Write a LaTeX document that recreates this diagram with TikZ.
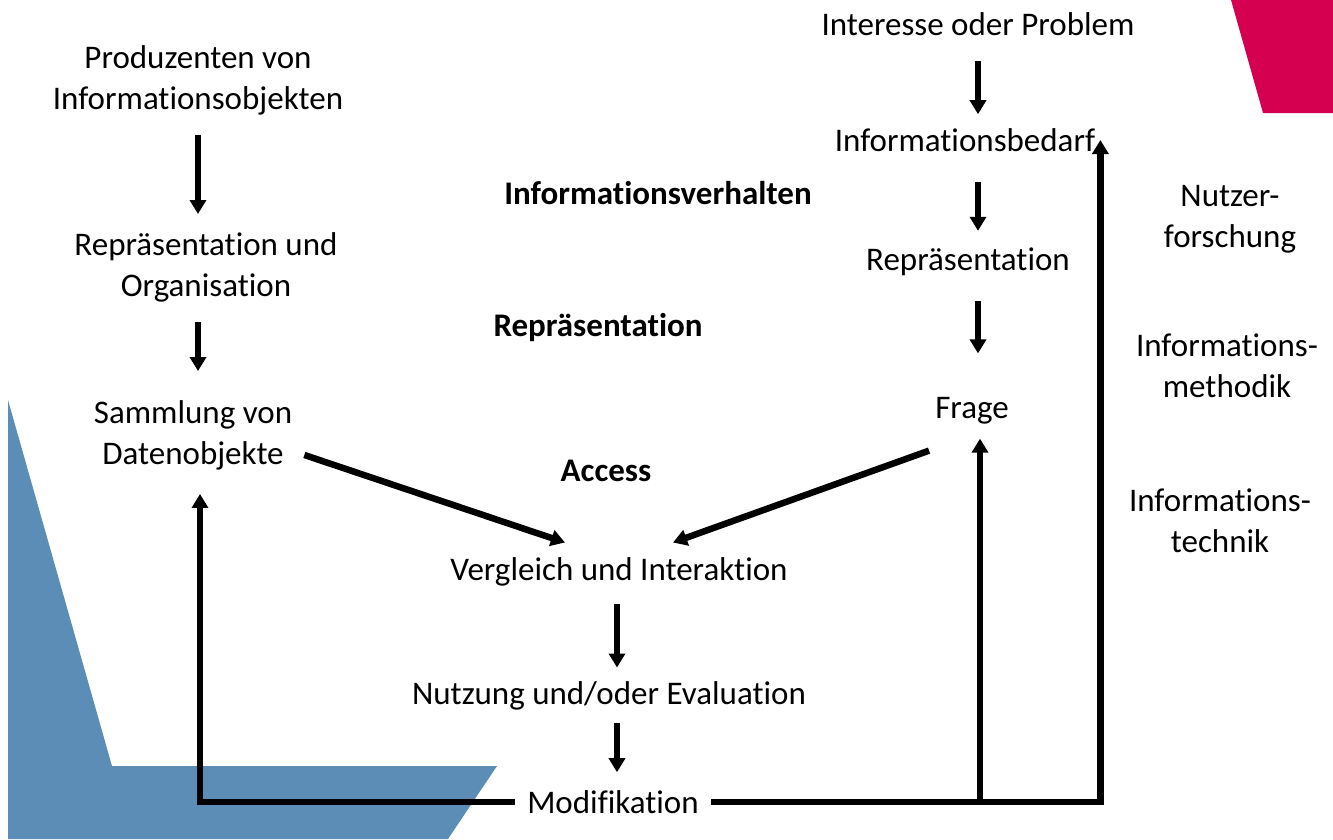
\documentclass[tikz,border=0pt]{standalone}
\usepackage{fontspec}
\setmainfont[Ligatures={CommonOff,ContextualOff,RequiredOff,RareOff},Contextuals=AlternateOff]{Carlito}
\usepackage{xcolor}
\usetikzlibrary{arrows.meta}
\definecolor{hsblau}{RGB}{91,141,182}
\definecolor{hsrot}{RGB}{214,0,80}
\tikzset{
  txt/.style = {align=center, inner sep=12pt,
    font=\fontsize{33}{41}\selectfont},
  txt_b/.style = {txt, font=\fontsize{33}{41}\selectfont\bfseries},% fett
  linie/.style = {line width=6.5pt},
  pfeil/.style = {linie, -{Triangle[width=16pt,length=14pt]}},
  kurz/.style = {pfeil, shorten <=8pt, shorten >=6pt}% kurze Pfeile
}

\begin{document}
\begin{tikzpicture}[x=1pt, y=-1pt]
	\useasboundingbox (0,0) rectangle (1333,839);
	% Hintergrund
	\fill[hsblau] (8,400) -- (112,766) -- (497,766) -- (448,839) -- (8,839) -- cycle;
	\fill[hsrot] (1231,0) -- (1263,113) -- (1333,113) -- (1333,0) -- cycle;
	% linke Spalte
	\node[txt] (prod) at (198,80) {Produzenten von\\Informationsobjekten};
	\node[txt] (repr) at (206,267) {Repräsentation und\\Organisation};
	\node[txt] (samm) at (193,435) {Sammlung von\\Datenobjekte};
	% rechte Spalte
	\node[txt] (intr) at (978,24) {Interesse oder Problem};
	\node[txt] (bedarf) at (965,140) {Informationsbedarf};
	\node[txt] (reprR) at (968,262) {Repräsentation};
	\node[txt] (frage) at (972,411) {Frage};
	% Mitte
	\node[txt_b] (verh) at (658,193) {Informationsverhalten};
	\node[txt_b] (reprB) at (598,328) {Repräsentation};
	\node[txt_b] (access) at (606,471) {Access};
	\node[txt] (vergl) at (619,572) {Vergleich und Interaktion};
	\node[txt] (nutz) at (609,696) {Nutzung und/oder Evaluation};
	\node[txt] (modi) at (613,802) {Modifikation};
	% Forschungsfelder
	\node[txt] (forsch) at (1230,219) {Nutzer-\\forschung};
	\node[txt] (meth) at (1227,366) {Informations-\\methodik};
	\node[txt] (tech) at (1220,521) {Informations-\\technik};

	\draw[kurz] (prod.south) -- (prod.south |- repr.north);
	\draw[kurz, shorten >=17pt] (prod.south |- repr.south) -- (prod.south |- samm.north);
	\draw[kurz, shorten <=13pt, shorten >=2pt] (intr.south) -- (intr.south |- bedarf.north);
	\draw[kurz, shorten <=18pt, shorten >=5pt] (intr.south |- bedarf.south) -- (intr.south |- reprR.north);
	\draw[kurz, shorten <=13pt, shorten >=32pt] (intr.south |- reprR.south) -- (intr.south |- frage.north);
	\draw[kurz, shorten <=5pt, shorten >=2pt] ([xshift=-2pt]vergl.south) -- ([xshift=-2pt]vergl.south |- nutz.north);
	\draw[kurz, shorten <=0pt] ([xshift=8pt]nutz.south) -- ([xshift=8pt]nutz.south |- modi.north);

	\draw[pfeil] ([yshift=27pt]samm.south east) -- ([shift={(-54pt,3pt)}]vergl.north);
	\draw[pfeil] ([shift={(6pt,-14pt)}]frage.south west) -- ([shift={(54pt,3pt)}]vergl.north);
	\draw[pfeil] (modi.west) -| ([shift={(7pt,-12pt)}]samm.south);
	\draw[pfeil] (modi.east) -| ([xshift=-7pt]bedarf.east);
	\draw[pfeil] ([xshift=8pt]frage.south |- modi.east) -- ([shift={(8pt,-2pt)}]frage.south);
\end{tikzpicture}
\end{document}
